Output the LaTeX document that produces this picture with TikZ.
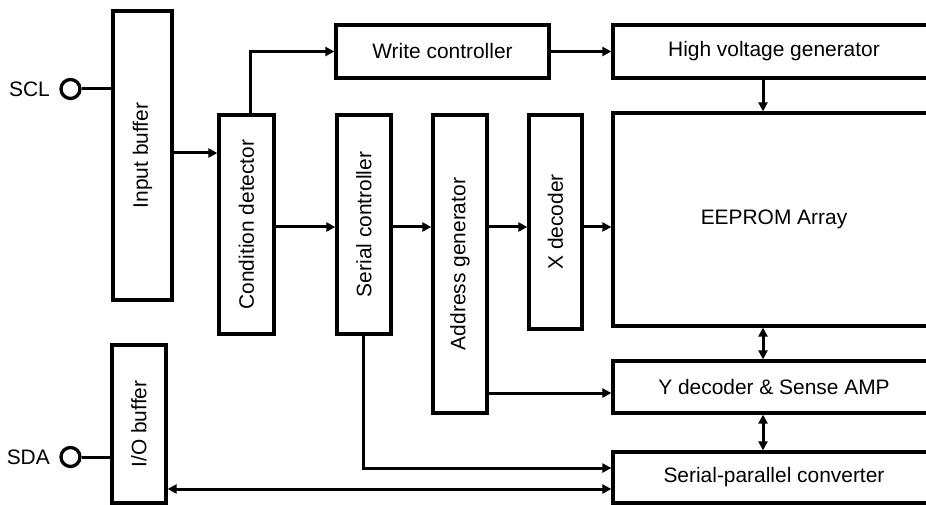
\documentclass[tikz,border=0pt]{standalone}
\usepackage{fontspec}
\setmainfont{Liberation Sans}
\usetikzlibrary{arrows.meta}
\begin{document}
\begin{tikzpicture}[x=1bp,y=-1bp,
  box/.style={draw, line width=3.3bp, inner sep=0pt, font=\fontsize{21}{25}\selectfont},
  conn/.style={line width=3bp},
  arr/.style={conn, -{Triangle[length=9bp,width=9bp]}},
  darr/.style={conn, {Triangle[length=9bp,width=9bp]}-{Triangle[length=9bp,width=9bp]}},
  pin/.style={draw, circle, line width=3.3bp, minimum size=19bp, inner sep=0pt},
  pinlabel/.style={anchor=east, inner sep=0pt, font=\fontsize{21}{25}\selectfont}]
\useasboundingbox (0,0) rectangle (926,505);
\clip (0,0) rectangle (926,505);
% boxes
\node[box, minimum width=59bp, minimum height=289bp] (inbuf) at (142.5,155.5) {\rotatebox{90}{Input buffer}};
\node[box, minimum width=55bp, minimum height=219bp] (cond) at (246.5,224.5) {\rotatebox{90}{Condition detector}};
\node[box, minimum width=213bp, minimum height=53bp] (write) at (442.5,51.5) {Write controller};
\node[box, minimum width=322bp, minimum height=53bp] (hvg) at (774,51.5) {High voltage generator};
\node[box, minimum width=54bp, minimum height=219bp] (serial) at (364,224.5) {\rotatebox{90}{Serial controller}};
\node[box, minimum width=54bp, minimum height=298bp] (addr) at (460,264) {\rotatebox{90}{Address generator}};
\node[box, minimum width=53bp, minimum height=214bp] (xdec) at (555.5,222) {\rotatebox{90}{X decoder}};
\node[box, minimum width=322bp, minimum height=213bp] (eeprom) at (774,219.5) {EEPROM Array};
\node[box, minimum width=322bp, minimum height=52bp] (ydec) at (774,387) {Y decoder \& Sense AMP};
\node[box, minimum width=322bp, minimum height=51bp] (sp) at (774,477.5) {Serial-parallel converter};
\node[box, minimum width=54bp, minimum height=158bp] (iobuf) at (139,424) {\rotatebox{90}{I/O buffer}};
% pins
\node[pin] (scl) at (70.5,89) {};
\node[pinlabel] (scllabel) at (50,89) {SCL};
\node[pin] (sda) at (70.5,457) {};
\node[pinlabel] (sdalabel) at (50,457) {SDA};
% level coordinates
\coordinate (l153) at (0,153);
\coordinate (l227) at (0,227);
\coordinate (l393) at (0,393);
\coordinate (l468) at (0,468);
\coordinate (l489) at (0,489);
\coordinate (x250) at (250,0);
\coordinate (x763) at (763,0);
\coordinate (x363) at (363,0);
% connectors
\draw[conn] (scl.east) -- (inbuf.west |- scl);
\draw[conn] (sda.east) -- (iobuf.west |- sda);
\draw[arr] (inbuf.east |- l153) -- (cond.west |- l153);
\draw[arr] (x250 |- cond.north) |- (write.west);
\draw[arr] (write.east) -- (hvg.west);
\draw[arr] (x763 |- hvg.south) -- (x763 |- eeprom.north);
\draw[arr] (cond.east |- l227) -- (serial.west |- l227);
\draw[arr] (serial.east |- l227) -- (addr.west |- l227);
\draw[arr] (addr.east |- l227) -- (xdec.west |- l227);
\draw[arr] (xdec.east |- l227) -- (eeprom.west |- l227);
\draw[darr] (x763 |- eeprom.south) -- (x763 |- ydec.north);
\draw[darr] (x763 |- ydec.south) -- (x763 |- sp.north);
\draw[arr] (addr.east |- l393) -- (ydec.west |- l393);
\draw[arr] (x363 |- serial.south) |- (sp.west |- l468);
\draw[darr] (iobuf.east |- l489) -- (sp.west |- l489);
\end{tikzpicture}
\end{document}
